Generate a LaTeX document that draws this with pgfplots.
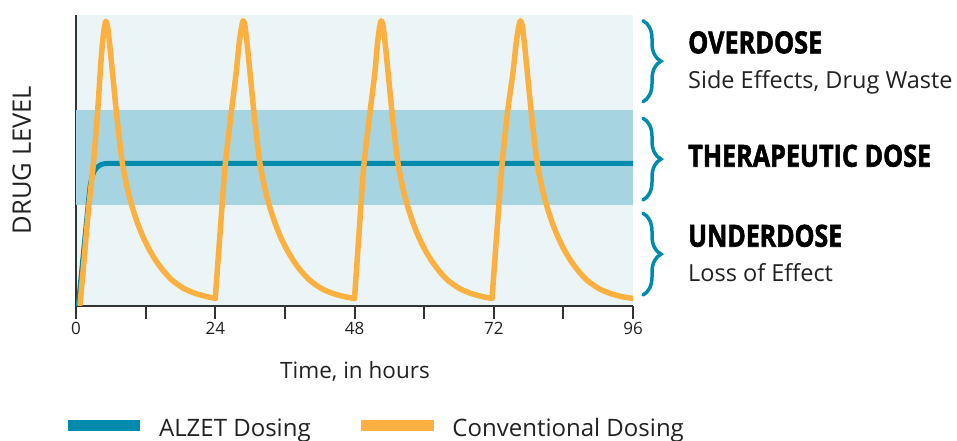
\documentclass[border=0pt]{standalone}
\usepackage{pgfplots}
\pgfplotsset{compat=1.18}
\usepackage{fontspec}
\usepackage{graphicx}
\setmainfont{Open Sans}
\newfontfamily\headfont{Open Sans}[BoldFeatures={FakeBold=2}]
\usetikzlibrary{decorations.pathreplacing}
\definecolor{bglight}{HTML}{EBF5F8}
\definecolor{band}{HTML}{A6D4E0}
\definecolor{alzet}{HTML}{008BAD}
\definecolor{conv}{HTML}{FBB040}
\definecolor{axisgray}{HTML}{333333}
\definecolor{textgray}{HTML}{222222}
\begin{document}
\begin{tikzpicture}
\useasboundingbox (0,0) rectangle (957bp,441bp);
\begin{axis}[
  at={(76bp,135bp)}, anchor=south west,
  scale only axis, width=557bp, height=291bp,
  xmin=0, xmax=96, ymin=0, ymax=100,
  axis lines=left,
  axis line style={-, line width=2.2bp, draw=axisgray},
  axis background/.style={fill=bglight},
  xtick={0,12,...,96}, xticklabels={0,,24,,48,,72,,96},
  xtick align=outside, major tick length=12.5bp,
  xtick style={line width=2bp, draw=axisgray},
  ytick=\empty,
  xticklabel style={font=\fontsize{17bp}{20bp}\selectfont, text=textgray},
  legend columns=2,
  legend style={at={(axis description cs:-0.0246,-0.3856)}, anchor=north west,
    draw=none, fill=none, inner sep=0pt, outer sep=0pt,
    font=\fontsize{24bp}{28bp}\selectfont, text=textgray,
    nodes={inner sep=0pt},
    /tikz/every even column/.append style={column sep=45bp},
    /tikz/every odd column/.append style={column sep=13bp}},
  legend image code/.code={\draw[#1, line width=11.4bp, line cap=butt, line join=miter] (0bp,2.3bp) -- (72.4bp,2.3bp);},
  conv seg/.style={conv, line width=5.5bp, smooth, tension=0.4, line join=round, line cap=round},
]
\addplot[draw=none, fill=band, forget plot] coordinates {(0,34.8) (96,34.8) (96,67.4) (0,67.4)} -- cycle;
\addplot[alzet, line width=5bp, line join=round, line cap=round] coordinates {
(0.4,0.3) (2.2,37) (2.45,41.5) (2.75,44.3) (3.1,46.2) (3.6,47.6) (4.2,48.5) (4.9,48.9) (5.6,49) (96,49)};
\addlegendentry{ALZET Dosing}
\addplot[conv seg] coordinates {
(0.7,0.5) (1.4,16) (2.1,32) (3.0,49) (3.7,66) (4.3,84) (4.7,93) (5.1,97.8)
(5.4,96.5) (5.8,90) (6.3,80) (7.1,64) (8.0,49) (8.9,40) (9.7,34) (10.6,28.5) (11.5,24) (12.6,19.5) (13.8,15.5) (15.1,12) (16.6,8.8) (18.6,6) (20.6,4.3) (22.6,3.2) (24.0,2.6)};
\addlegendentry{Conventional Dosing}
\addplot[conv seg, forget plot] coordinates {(24.0,2.6)
(24.9,27) (25.7,48) (26.8,67) (27.6,80) (28.1,90) (28.5,95.5) (28.8,98) (29.1,96.5) (29.5,90) (30.0,80) (30.8,64) (31.7,49) (32.6,40) (33.4,34) (34.3,28.5) (35.2,24) (36.3,19.5) (37.5,15.5) (38.8,12) (40.3,8.8) (42.3,6) (44.3,4.3) (46.3,3.2) (48.0,2.6)};
\addplot[conv seg, forget plot] coordinates {(48.0,2.6)
(48.85,27) (49.6,48) (50.7,67) (51.5,80) (51.95,90) (52.3,95.5) (52.6,98) (52.9,96.5) (53.3,90) (53.8,80) (54.6,64) (55.5,49) (56.4,40) (57.2,34) (58.1,28.5) (59.0,24) (60.1,19.5) (61.3,15.5) (62.6,12) (64.1,8.8) (66.1,6) (68.1,4.3) (70.1,3.2) (71.7,2.6)};
\addplot[conv seg, forget plot] coordinates {(71.7,2.6)
(72.6,27) (73.4,48) (74.4,67) (75.3,80) (75.85,90) (76.25,95.5) (76.6,98) (76.9,96.5) (77.3,90) (77.8,80) (78.6,64) (79.5,49) (80.4,40) (81.2,34) (82.1,28.5) (83.0,24) (84.1,19.5) (85.3,15.5) (86.6,12) (88.1,8.8) (90.1,6) (92.1,4.3) (94.1,3.2) (96.0,2.6)};
\end{axis}
\node[rotate=90, anchor=center, inner sep=0pt, text=textgray, font=\fontsize{25.5bp}{30bp}\selectfont] at (21.7bp,281bp) {DRUG LEVEL};
\node[anchor=base, inner sep=0pt, text=textgray, font=\fontsize{22.5bp}{26bp}\selectfont] at (355bp,62bp) {Time, in hours};
\begin{scope}[alzet, line width=3.5bp, line cap=round, decoration={brace, amplitude=18bp}]
\draw[decorate] (643bp,420.3bp) -- (643bp,339.3bp);
\draw[decorate] (643bp,322.7bp) -- (643bp,241bp);
\draw[decorate] (643bp,227.7bp) -- (643bp,146bp);
\end{scope}
\node[anchor=base west, inner sep=0pt] at (688bp,387.7bp) {\resizebox{134bp}{\height}{\headfont\bfseries\fontsize{30.4bp}{34bp}\selectfont OVERDOSE}};
\node[anchor=base west, inner sep=0pt] at (688bp,274.3bp) {\resizebox{243bp}{\height}{\headfont\bfseries\fontsize{30.4bp}{34bp}\selectfont THERAPEUTIC DOSE}};
\node[anchor=base west, inner sep=0pt] at (688bp,194.3bp) {\resizebox{154bp}{\height}{\headfont\bfseries\fontsize{30.4bp}{34bp}\selectfont UNDERDOSE}};
\node[anchor=base west, inner sep=0pt, text=textgray, font=\fontsize{23.5bp}{28bp}\selectfont] at (688bp,352.7bp) {Side Effects, Drug Waste};
\node[anchor=base west, inner sep=0pt, text=textgray, font=\fontsize{23.5bp}{28bp}\selectfont] at (688bp,159.3bp) {Loss of Effect};
\end{tikzpicture}
\end{document}
